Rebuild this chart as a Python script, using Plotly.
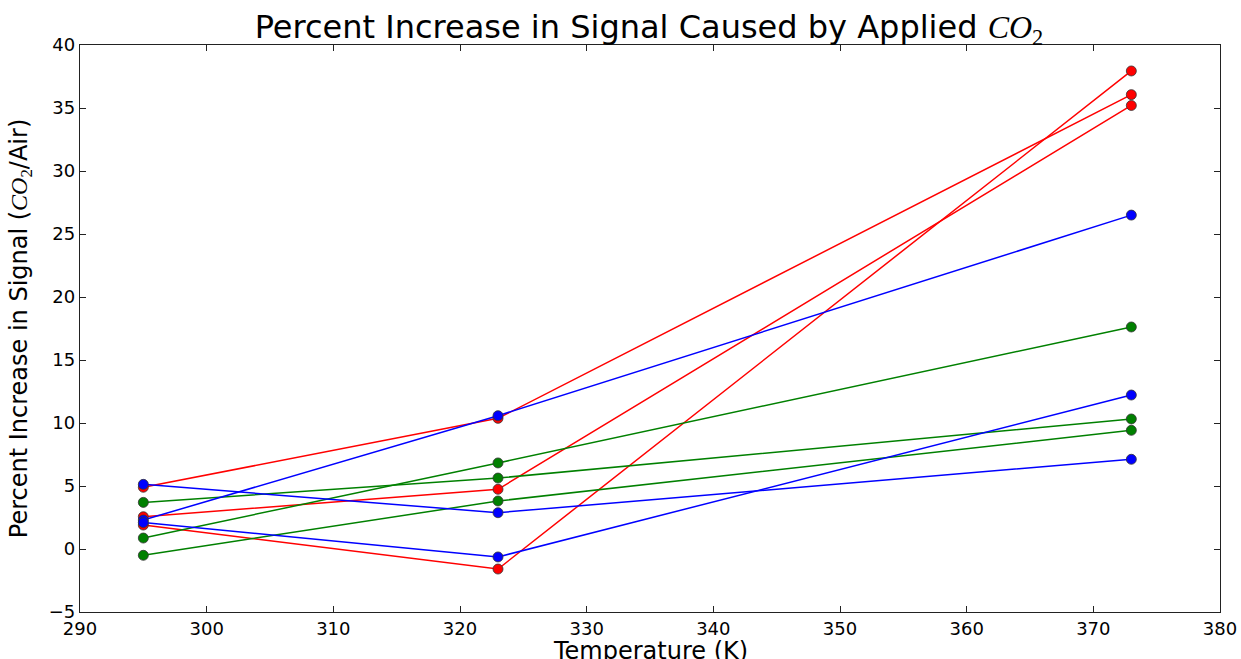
import plotly.graph_objects as go

temps = [295, 323, 373]

red_a = [4.9, 10.37, 36.06]
red_b = [2.56, 4.74, 35.2]
red_c = [1.9, -1.59, 37.94]

green_a = [0.87, 6.83, 17.62]
green_b = [3.7, 5.63, 10.32]
green_c = [-0.5, 3.81, 9.42]

blue_a = [2.3, 10.58, 26.5]
blue_b = [5.13, 2.88, 7.12]
blue_c = [2.1, -0.63, 12.22]

series = [
    (red_a, "#ff0000"), (red_b, "#ff0000"), (red_c, "#ff0000"),
    (green_a, "#008000"), (green_b, "#008000"), (green_c, "#008000"),
    (blue_a, "#0000ff"), (blue_b, "#0000ff"), (blue_c, "#0000ff"),
]

fig = go.Figure()
for vals, col in series:
    fig.add_trace(go.Scatter(
        x=temps, y=vals, mode="lines+markers",
        line=dict(color=col, width=1.5),
        marker=dict(color=col, size=10, line=dict(color="#333333", width=0.8)),
        showlegend=False,
    ))

FONT = "DejaVu Sans"
MATH = '<span style="font-family:\'Liberation Serif\'"><i>CO</i><sub>2</sub></span>'
axis_common = dict(
    showline=True, linecolor="#222222", linewidth=1.3, mirror="ticks",
    ticks="inside", ticklen=6, tickwidth=1, tickcolor="#222222",
    showgrid=False, zeroline=False, automargin=False,
    tickfont=dict(family=FONT, size=18, color="black"),
)

fig.update_xaxes(range=[290, 380], dtick=10, tick0=290, **axis_common)
fig.update_yaxes(range=[-5, 40], dtick=5, tick0=-5,
                 title=dict(text="Percent Increase in Signal (" + MATH + "/Air)",
                            font=dict(family=FONT, size=24, color="black"), standoff=14),
                 **axis_common)

fig.add_annotation(text="Temperature (K)", xref="paper", yref="paper",
                   x=0.5, y=(612 - 651) / 567, xanchor="center", yanchor="middle",
                   showarrow=False, font=dict(family=FONT, size=24, color="black"))

fig.update_layout(
    width=1241, height=659,
    margin=dict(l=80, r=21, t=45, b=47),
    paper_bgcolor="white", plot_bgcolor="white",
    title=dict(text="Percent Increase in Signal Caused by Applied " + MATH,
               font=dict(family=FONT, size=32, color="black"),
               x=649 / 1241, xanchor="center", y=1 - 27 / 659, yanchor="middle", xref="container", yref="container"),
)

fig.write_html("out.html")
